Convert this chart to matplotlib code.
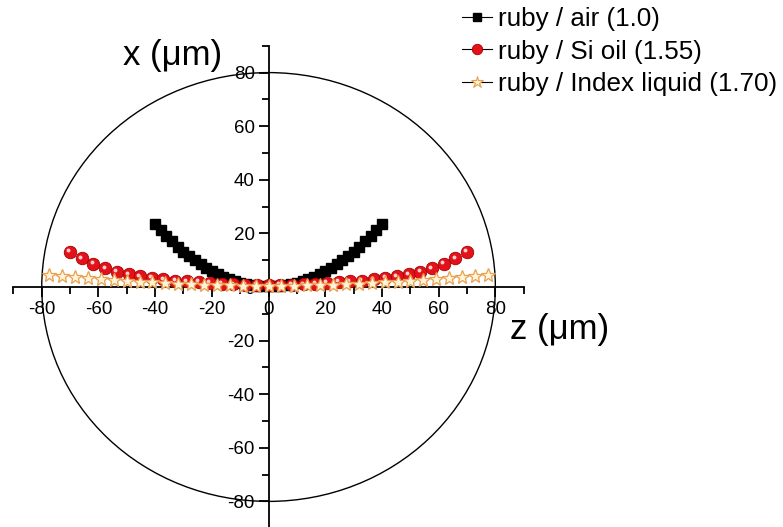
import matplotlib
matplotlib.use("Agg")
import matplotlib.pyplot as plt
from matplotlib.patches import Ellipse
from matplotlib.lines import Line2D
from matplotlib.ticker import MultipleLocator
import matplotlib.transforms as mtransforms

plt.rcParams['font.family'] = ['Liberation Sans', 'DejaVu Sans']
plt.rcParams['axes.unicode_minus'] = False

# ruby / air (1.0)
air_z = [-40, -38, -36, -34, -32, -30, -28, -26, -24, -22, -20, -18, -16, -14,
         -12, -10, -8, -6, -4, -2, 0, 2, 4, 6, 8, 10, 12, 14, 16, 18, 20, 22,
         24, 26, 28, 30, 32, 34, 36, 38, 40]
air_x = [23.5, 21.2, 19.0, 17.0, 15.0, 13.2, 11.5, 9.9, 8.5, 7.1, 5.9, 4.8, 3.8,
         2.9, 2.1, 1.5, 0.95, 0.6, 0.45, 0.35, 0.3, 0.35, 0.45, 0.6, 0.95, 1.5,
         2.1, 2.9, 3.8, 4.8, 5.9, 7.1, 8.5, 9.9, 11.5, 13.2, 15.0, 17.0, 19.0,
         21.2, 23.5]

# ruby / Si oil (1.55)
oil_z = [-70.0, -65.9, -61.8, -57.6, -53.5, -49.4, -45.3, -41.2, -37.1, -32.9,
         -28.8, -24.7, -20.6, -16.5, -12.4, -8.2, -4.1, 0.0, 4.1, 8.2, 12.4,
         16.5, 20.6, 24.7, 28.8, 32.9, 37.1, 41.2, 45.3, 49.4, 53.5, 57.6, 61.8,
         65.9, 70.0]
oil_x = [13.2, 10.7, 8.6, 7.0, 5.7, 4.7, 4.0, 3.4, 2.8, 2.4, 2.1, 1.8, 1.5, 1.2,
         1.0, 0.8, 0.7, 0.6, 0.7, 0.8, 1.0, 1.2, 1.5, 1.8, 2.1, 2.4, 2.8, 3.4,
         4.0, 4.7, 5.7, 7.0, 8.6, 10.7, 13.2]

# ruby / Index liquid (1.70)
liq_z = [-77.35, -72.8, -68.25, -63.7, -59.15, -54.6, -50.05, -45.5, -40.95,
         -36.4, -31.85, -27.3, -22.75, -18.2, -13.65, -9.1, -4.55, 0.0, 4.55,
         9.1, 13.65, 18.2, 22.75, 27.3, 31.85, 36.4, 40.95, 45.5, 50.05, 54.6,
         59.15, 63.7, 68.25, 72.8, 77.35]
liq_x = [4.6, 4.2, 3.7, 3.3, 3.0, 2.7, 2.3, 2.0, 1.7, 1.5, 1.3, 1.1, 0.9, 0.7,
         0.6, 0.5, 0.4, 0.4, 0.4, 0.5, 0.6, 0.7, 0.9, 1.1, 1.3, 1.5, 1.7, 2.0,
         2.3, 2.7, 3.0, 3.3, 3.7, 4.2, 4.6]

sphere_radius = 80

labels = ["ruby / air (1.0)", "ruby / Si oil (1.55)", "ruby / Index liquid (1.70)"]

W, H = 783, 527
fig = plt.figure(figsize=(W / 100, H / 100), dpi=100)
ax = fig.add_axes([13.4 / W, (H - 528.2) / H, 510.3 / W, 482.4 / H])
ax.set_xlim(-90, 90)
ax.set_ylim(-90, 90)

# axes crossing at the origin
for side in ("top", "right"):
    ax.spines[side].set_visible(False)
ax.spines["left"].set_position(("data", 0))
ax.spines["bottom"].set_position(("data", 0))
for side in ("left", "bottom"):
    ax.spines[side].set_linewidth(1.3)
ax.xaxis.set_major_locator(MultipleLocator(20))
ax.xaxis.set_minor_locator(MultipleLocator(10))
ax.yaxis.set_major_locator(MultipleLocator(20))
ax.yaxis.set_minor_locator(MultipleLocator(10))
ax.tick_params(which="major", direction="out", length=7, width=1.3, labelsize=13.5, pad=3)
ax.tick_params(which="minor", direction="out", length=5, width=1.3)
ax.patch.set_visible(False)

# sphere outline
ax.add_patch(Ellipse((0, 0), 2 * sphere_radius, 2 * sphere_radius, fill=False,
                     edgecolor="black", linewidth=1.0, zorder=1))

ax.plot(liq_z, liq_x, linestyle="none", marker="*", markersize=10,
        markerfacecolor="#fff3d8", markeredgecolor="#e8a050",
        markeredgewidth=0.9, zorder=4)
ax.plot(air_z, air_x, linestyle="none", marker="s", markersize=7.2,
        color="black", zorder=3)
ax.plot(oil_z, oil_x, linestyle="none", marker="o", markersize=9,
        markerfacecolor="#e3121a", markeredgecolor="#a80000",
        markeredgewidth=0.6, zorder=3.5)
shine = mtransforms.offset_copy(ax.transData, fig=fig, x=-1.7, y=1.7, units="dots")
ax.plot(oil_z, oil_x, linestyle="none", marker="o", markersize=2.8,
        markerfacecolor="#ffd0d0", markeredgewidth=0, transform=shine, zorder=3.6)

fig.text(222 / W, 1 - 56 / H, "x (μm)", fontsize=25, ha="right", va="center")
fig.text(510 / W, 1 - 330 / H, "z (μm)", fontsize=25, ha="left", va="center")

handles = [
    Line2D([], [], color="black", linewidth=0.8, marker="s", markersize=5.5,
           markerfacecolor="black", markeredgecolor="black"),
    Line2D([], [], color="black", linewidth=0.8, marker="o", markersize=7.5,
           markerfacecolor="#e3121a", markeredgecolor="#a80000", markeredgewidth=0.6),
    Line2D([], [], color="black", linewidth=0.8, marker="*", markersize=9,
           markerfacecolor="#fff3d8", markeredgecolor="#e8a050", markeredgewidth=0.8),
]
fig.legend(handles, labels, loc="upper left", bbox_to_anchor=(462 / W, 1 - 7 / H),
           frameon=False, fontsize=18.7, handlelength=1.15, handletextpad=0.25,
           labelspacing=0.33, borderpad=0, borderaxespad=0)

fig.savefig("out.png", dpi=100)
